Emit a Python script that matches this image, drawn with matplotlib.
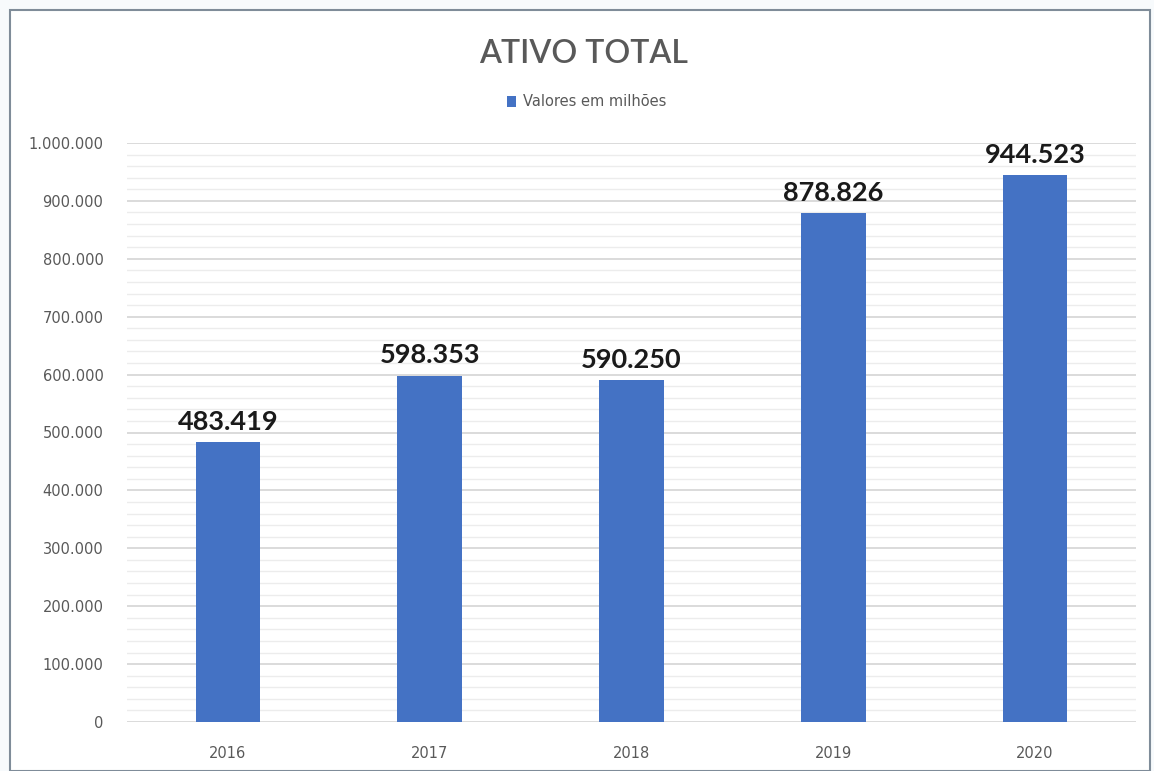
import matplotlib
matplotlib.use("Agg")
import matplotlib.pyplot as plt
from matplotlib.patches import Rectangle
from matplotlib.ticker import MultipleLocator, FuncFormatter

categories = ["2016", "2017", "2018", "2019", "2020"]
values = [483419, 598353, 590250, 878826, 944523]
series_name = "Valores em milhões"
title = "ATIVO TOTAL"

plt.rcParams['font.family'] = ['DejaVu Sans']

fig = plt.figure(figsize=(11.54, 7.71), dpi=100)
fig.patch.set_facecolor("#f7fafc")
# chart frame
frame = Rectangle((10/1154, 0), (1150-10)/1154, 1 - 10/771,
                  transform=fig.transFigure, facecolor="white",
                  edgecolor="#7f8c99", linewidth=1.5, zorder=-10)
fig.patches.append(frame)

ax = fig.add_axes([127/1154, 1 - 722/771, (1136-127)/1154, (722-143)/771])
ax.set_facecolor("none")
ax.set_zorder(1)

x = range(len(categories))
bars = ax.bar(x, values, width=0.32, color="#4472C4", zorder=3, label=series_name)

ax.set_xlim(-0.5, len(categories) - 0.5)
ax.set_ylim(0, 1000000)
ax.set_xticks(list(x))
ax.set_xticklabels(categories)
ax.yaxis.set_major_locator(MultipleLocator(100000))
ax.yaxis.set_minor_locator(MultipleLocator(20000))
ax.yaxis.set_major_formatter(FuncFormatter(lambda v, p: f"{int(v):,}".replace(",", ".")))

ax.grid(axis="y", which="major", color="#d4d4d4", linewidth=1.2, zorder=0)
ax.grid(axis="y", which="minor", color="#ececec", linewidth=1.0, zorder=0)
for s in ax.spines.values():
    s.set_visible(False)
ax.tick_params(axis="both", which="both", length=0, colors="#595959", labelsize=10.5)
ax.tick_params(axis="y", pad=17)
ax.tick_params(axis="x", pad=17)

for b, v in zip(bars, values):
    ax.annotate(f"{v:,}".replace(",", "."), (b.get_x() + b.get_width()/2, v),
                xytext=(0, 6), textcoords="offset points", ha="center", va="bottom",
                fontsize=19.5, fontweight="bold", color="#1a1a1a", zorder=4,
                family=["Lato", "DejaVu Sans"])

fig.text(583/1154, 1 - 54/771, title, ha="center", va="center", fontsize=23,
         fontweight="semibold", color="#595959", family=["Lato", "DejaVu Sans"])
leg = fig.legend(handles=[bars], labels=[series_name], loc="center",
                 bbox_to_anchor=(587/1154, 1 - 102/771), frameon=False,
                 fontsize=10.5, handlelength=0.6, handleheight=0.7, handletextpad=0.5,
                 labelcolor="#595959")

fig.savefig("out.png", dpi=100, facecolor=fig.get_facecolor())
